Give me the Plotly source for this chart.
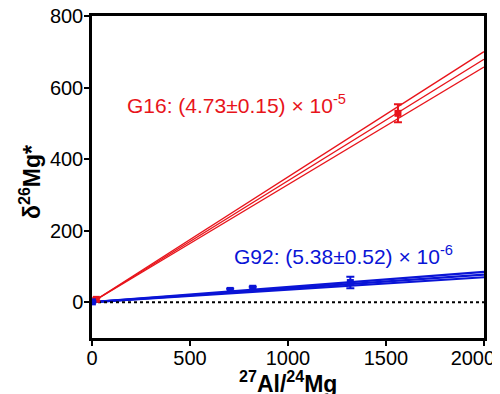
import plotly.graph_objects as go

# Data
x_line = [0, 2000]
g16_slope = 4.73e-5 / 0.13932 * 1000
g16_err = 0.15e-5 / 0.13932 * 1000
g92_slope = 5.38e-6 / 0.13932 * 1000
g92_err = 0.52e-6 / 0.13932 * 1000

g16_x = [22, 1561]
g16_y = [8, 528]
g16_yerr = [4, 25]
g16_xerr = [6, 15]

g92_x = [2, 705, 820, 1318]
g92_y = [1, 33, 39, 55]
g92_yerr = [2, 5, 4, 16]

x_ticks = [0, 500, 1000, 1500, 2000]
x_ticktext = ["0", "500", "1000", "1500", "2000\u2007\u2007"]
y_ticks = [0, 200, 400, 600, 800]

RED = "#e8141b"
BLUE = "#0a14d6"
FONT = "Liberation Sans, Arial"

fig = go.Figure()

for s in [g16_slope - g16_err, g16_slope, g16_slope + g16_err]:
    fig.add_trace(go.Scatter(x=x_line, y=[s * v for v in x_line], mode="lines",
                             line=dict(color=RED, width=1.4), showlegend=False, hoverinfo="skip"))
for s in [g92_slope - g92_err, g92_slope, g92_slope + g92_err]:
    fig.add_trace(go.Scatter(x=x_line, y=[s * v for v in x_line], mode="lines",
                             line=dict(color=BLUE, width=2.2), showlegend=False, hoverinfo="skip"))

fig.add_trace(go.Scatter(x=x_line, y=[0, 0], mode="lines",
                         line=dict(color="black", width=2, dash="dot"), showlegend=False))

fig.add_trace(go.Scatter(x=g16_x, y=g16_y, mode="markers",
                         marker=dict(color=RED, size=7, symbol="square"),
                         error_y=dict(type="data", array=g16_yerr, color=RED, thickness=2, width=4),
                         error_x=dict(type="data", array=g16_xerr, color=RED, thickness=2, width=0),
                         showlegend=False))
fig.add_trace(go.Scatter(x=g92_x, y=g92_y, mode="markers",
                         marker=dict(color=BLUE, size=7, symbol="square"),
                         error_y=dict(type="data", array=g92_yerr, color=BLUE, thickness=2, width=4),
                         showlegend=False))

fig.add_annotation(x=168, y=555, xref="x", yref="y", xanchor="left", yanchor="middle",
                   text="G16: (4.73±0.15) × 10<sup>-5</sup>", showarrow=False,
                   font=dict(family=FONT, size=21, color=RED))
fig.add_annotation(x=714, y=133, xref="x", yref="y", xanchor="left", yanchor="middle",
                   text="G92: (5.38±0.52) × 10<sup>-6</sup>", showarrow=False,
                   font=dict(family=FONT, size=21, color=BLUE))

# Axis titles
fig.add_annotation(x=0.5, y=0, xref="paper", yref="paper", xanchor="center", yanchor="top",
                   yshift=-27,
                   text="<b><sup>27</sup>Al/<sup>24</sup>Mg</b>", showarrow=False,
                   font=dict(family=FONT, size=23, color="black"))
fig.add_annotation(x=0, y=0.5, xref="paper", yref="paper", xanchor="center", yanchor="middle",
                   xshift=-62, yshift=-5, textangle=-90,
                   text="<b>δ<sup>26</sup>Mg*</b>", showarrow=False,
                   font=dict(family=FONT, size=23, color="black"))

fig.update_layout(
    width=492, height=386,
    margin=dict(l=84, r=16, t=8, b=56, autoexpand=False),
    plot_bgcolor="white", paper_bgcolor="white",
    font=dict(family=FONT, size=20, color="black"),
)
fig.update_xaxes(range=[0, 2000], tickvals=x_ticks, ticktext=x_ticktext, showgrid=False, zeroline=False,
                 showline=True, linecolor="black", linewidth=2.5, mirror=True, automargin=False,
                 ticks="outside", ticklen=5, tickwidth=2, tickcolor="black", ticklabelstandoff=-5,
                 ticklabeloverflow="allow")
fig.update_yaxes(range=[-100, 800], tickvals=y_ticks, showgrid=False, zeroline=False,
                 showline=True, linecolor="black", linewidth=2.5, mirror=True, automargin=False,
                 ticks="outside", ticklen=5, tickwidth=2, tickcolor="black", ticklabelstandoff=-3,
                 ticklabeloverflow="allow")

fig.write_html("out.html")
